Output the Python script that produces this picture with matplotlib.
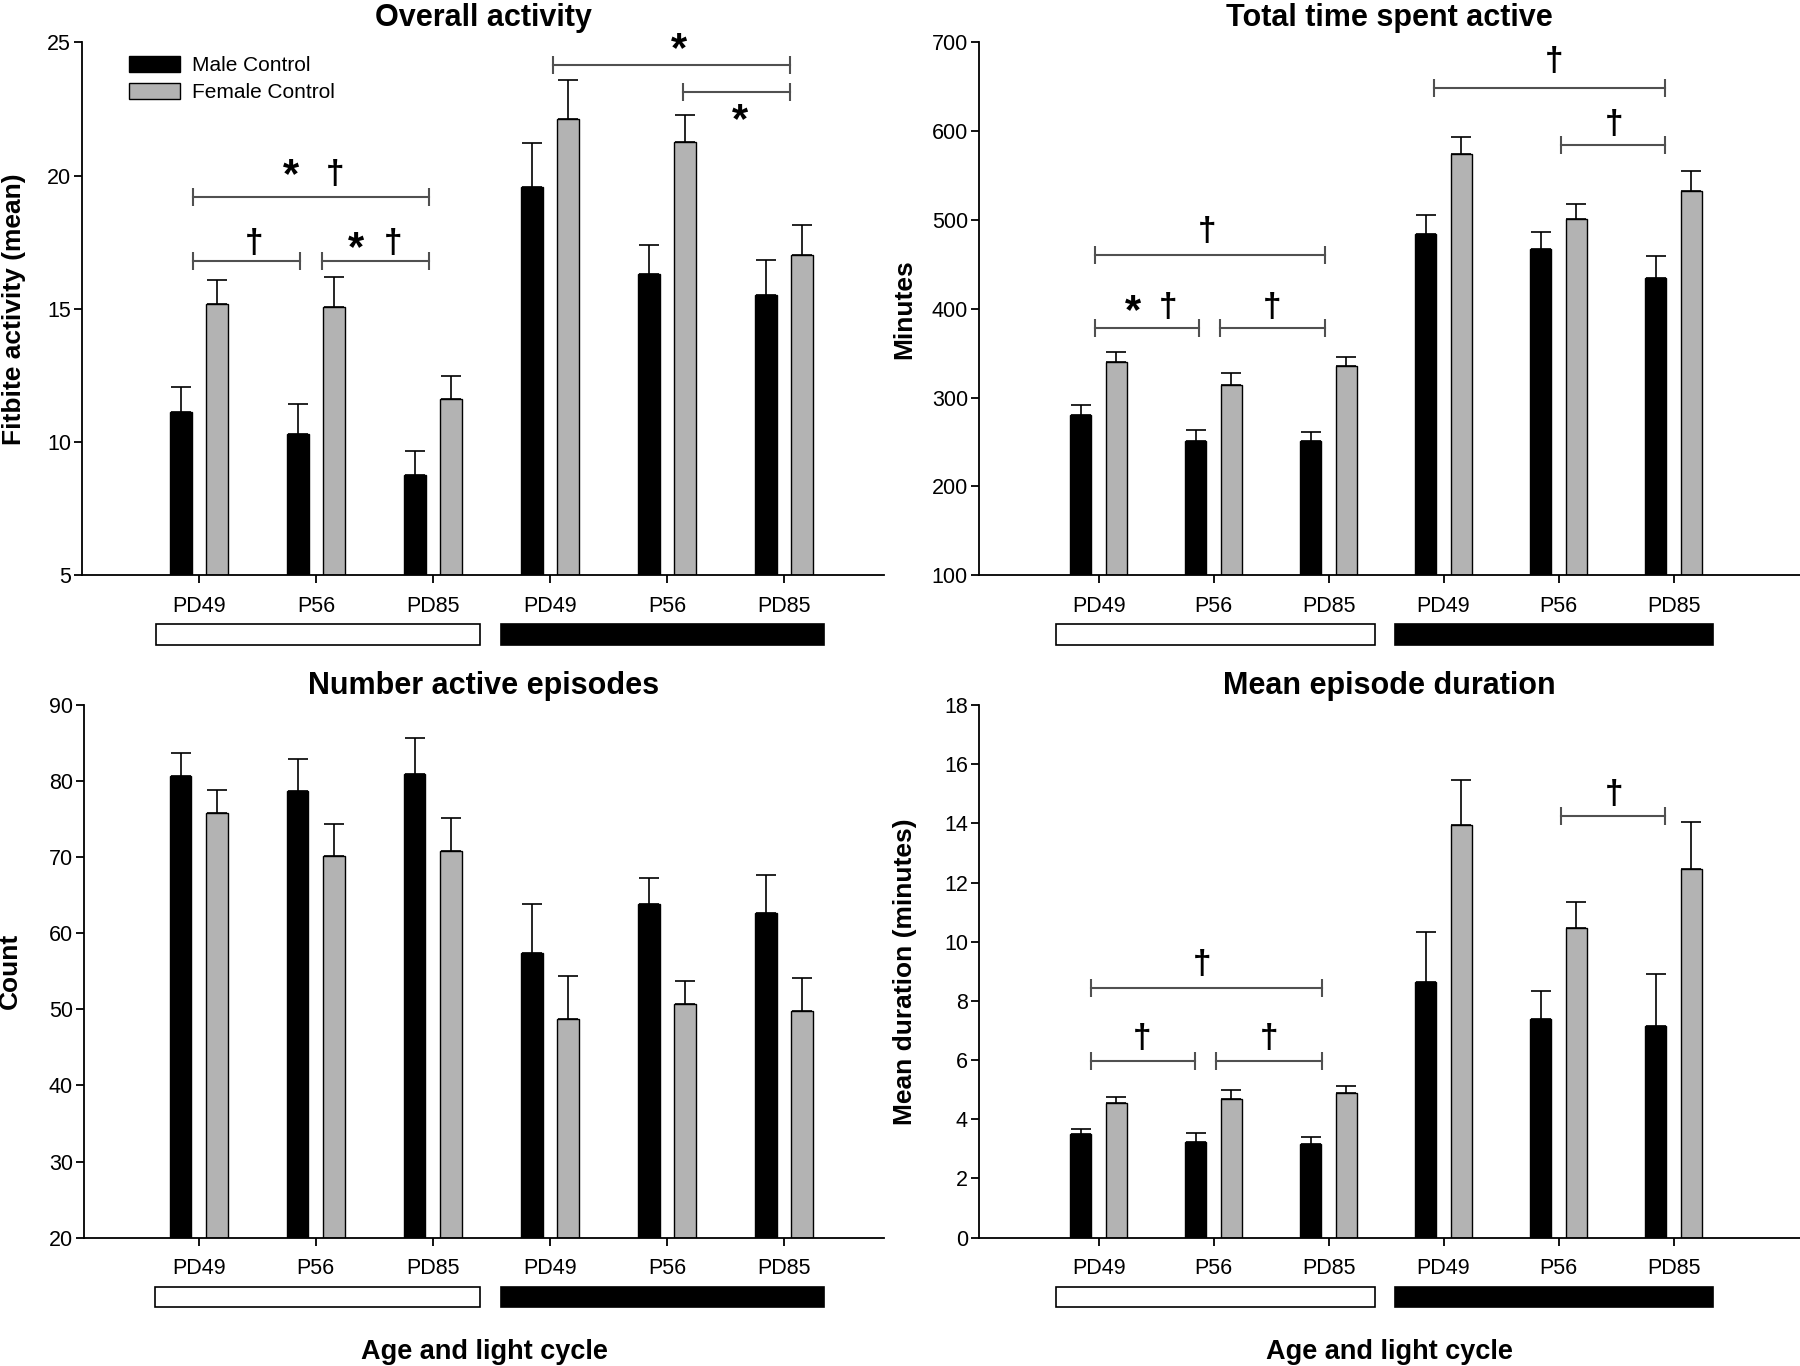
import matplotlib
matplotlib.use("Agg")
import matplotlib.pyplot as plt
import matplotlib.transforms as mtransforms
from matplotlib.patches import Rectangle, Patch
import numpy as np

plt.rcParams['font.family'] = ['Liberation Sans', 'DejaVu Sans']

# ---- data ----
ages = ["PD49", "P56", "PD85", "PD49", "P56", "PD85"]
series = ["Male Control", "Female Control"]

activity_male = [11.13, 10.28, 8.76, 19.59, 16.30, 15.53]
activity_male_err = [0.93, 1.13, 0.90, 1.65, 1.10, 1.29]
activity_female = [15.19, 15.07, 11.61, 22.14, 21.27, 17.02]
activity_female_err = [0.88, 1.12, 0.88, 1.47, 1.00, 1.14]

minutes_male = [280.5, 250.5, 251.0, 484.1, 467.4, 434.5]
minutes_male_err = [10.8, 12.8, 9.8, 21.6, 19.2, 25.5]
minutes_female = [340.3, 314.3, 335.4, 573.9, 501.3, 533.2]
minutes_female_err = [11.3, 12.8, 9.8, 19.1, 16.7, 22.5]

count_male = [80.67, 78.67, 80.96, 57.43, 63.84, 62.64]
count_male_err = [3.03, 4.29, 4.69, 6.35, 3.38, 5.04]
count_female = [75.86, 70.14, 70.77, 48.67, 50.73, 49.76]
count_female_err = [2.98, 4.18, 4.35, 5.67, 3.04, 4.41]

duration_male = [3.49, 3.22, 3.15, 8.65, 7.40, 7.15]
duration_male_err = [0.19, 0.33, 0.25, 1.68, 0.94, 1.77]
duration_female = [4.55, 4.68, 4.89, 13.95, 10.48, 12.45]
duration_female_err = [0.19, 0.31, 0.23, 1.52, 0.85, 1.58]

# significance brackets: (x start, x end, y) and marks (symbol, x, y centre)
activity_brackets = [(-0.05, 1.97, 19.21), (-0.05, 0.86, 16.81), (1.05, 1.97, 16.81),
                     (3.03, 5.05, 24.17), (4.14, 5.05, 23.14)]
activity_marks = [("*", 0.79, 20.24), ("†", 1.16, 20.06), ("†", 0.47, 17.48),
                  ("*", 1.34, 17.5), ("†", 1.66, 17.48), ("*", 4.10, 24.95), ("*", 4.62, 22.3)]
minutes_brackets = [(-0.03, 1.97, 460.1), (-0.03, 0.87, 378.6), (1.06, 1.97, 378.6),
                    (2.92, 4.93, 649.0), (4.02, 4.93, 584.2)]
minutes_marks = [("†", 0.94, 487.5), ("*", 0.30, 404.0), ("†", 0.60, 401.7),
                 ("†", 1.51, 401.7), ("†", 3.96, 678.9), ("†", 4.48, 607.8)]
count_brackets = []
count_marks = []
duration_brackets = [(-0.07, 1.94, 8.42), (-0.07, 0.84, 5.96), (1.02, 1.94, 5.96),
                     (4.02, 4.93, 14.25)]
duration_marks = [("†", 0.90, 9.24), ("†", 0.38, 6.74), ("†", 1.48, 6.74), ("†", 4.48, 14.98)]

W, H = 1800, 1366
fig = plt.figure(figsize=(W / 100, H / 100), dpi=100)


def frac(l, r, t, b):
    return [l / W, 1 - b / H, (r - l) / W, (b - t) / H]


male_color = "black"
female_color = "#b3b3b3"
bracket_color = "#505050"


def panel(rect, xlim, title, ylabel, ylim, yticks, male, male_err, female, female_err,
          brackets, marks, ylabel_x, title_pad, show_xlabel=False):
    ax = fig.add_axes(rect)
    x = np.arange(len(ages))
    ax.bar(x - 0.155, [m - ylim[0] for m in male], width=0.185, bottom=ylim[0],
           color=male_color, edgecolor="black", linewidth=1.0, zorder=2)
    ax.bar(x + 0.155, [f - ylim[0] for f in female], width=0.185, bottom=ylim[0],
           color=female_color, edgecolor="black", linewidth=1.0, zorder=2)
    ax.errorbar(x - 0.155, male, yerr=[np.zeros(len(male)), male_err], fmt="none",
                ecolor="black", elinewidth=1.2, capsize=7, capthick=1.2, zorder=1)
    ax.errorbar(x + 0.155, female, yerr=[np.zeros(len(female)), female_err], fmt="none",
                ecolor="black", elinewidth=1.2, capsize=7, capthick=1.2, zorder=1)

    ax.set_xlim(*xlim)
    ax.set_ylim(*ylim)
    ax.set_yticks(yticks)
    ax.set_xticks(x)
    ax.set_xticklabels(ages)
    for s in ["top", "right"]:
        ax.spines[s].set_visible(False)
    for s in ["left", "bottom"]:
        ax.spines[s].set_linewidth(1.3)
    ax.tick_params(axis="x", direction="out", length=6, width=1.3, pad=9, labelsize=15.5)
    ax.tick_params(axis="y", direction="out", length=6, width=1.3, pad=2, labelsize=15.5)

    ax.set_title(title, fontsize=22, fontweight="bold", pad=title_pad)
    ax.set_ylabel(ylabel, fontsize=19, fontweight="bold")
    ax.yaxis.set_label_coords(ylabel_x, 0.5)

    # light cycle bars below the axis
    trans = mtransforms.blended_transform_factory(ax.transData, ax.transAxes)
    ax.add_patch(Rectangle((-0.37, -0.131), 2.77, 0.039, transform=trans, clip_on=False,
                           facecolor="white", edgecolor="black", linewidth=1.2))
    ax.add_patch(Rectangle((2.58, -0.131), 2.76, 0.039, transform=trans, clip_on=False,
                           facecolor="black", edgecolor="black", linewidth=1.2))

    for x0, x1, y in brackets:
        ax.plot([x0, x1], [y, y], color=bracket_color, lw=1.5, marker="|",
                markersize=13, markeredgewidth=1.5, zorder=3)
    for s, mx, my in marks:
        if s == "*":
            size, frac_c = 30, 0.42
        else:
            size, frac_c = 24, 0.27
        tr = mtransforms.offset_copy(ax.transData, fig=fig, x=0, y=-frac_c * size, units="points")
        ax.text(mx, my, s, transform=tr, ha="center", va="baseline",
                fontsize=size, fontweight="bold")

    if show_xlabel:
        ax.text(0.5, -0.215, "Age and light cycle", transform=ax.transAxes, ha="center",
                va="center", fontsize=19.5, fontweight="bold")
    return ax


ax1 = panel(frac(82, 884, 42.5, 575), (-1.0, 5.855), "Overall activity", "Fitbite activity (mean)",
            (5, 25), [5, 10, 15, 20, 25], activity_male, activity_male_err,
            activity_female, activity_female_err, activity_brackets, activity_marks, -0.07, 12)
ax2 = panel(frac(979, 1800, 42.5, 575), (-1.04, 6.1), "Total time spent active", "Minutes",
            (100, 700), [100, 200, 300, 400, 500, 600, 700], minutes_male, minutes_male_err,
            minutes_female, minutes_female_err, minutes_brackets, minutes_marks, -0.077, 12)
ax3 = panel(frac(84, 884, 705, 1237.6), (-0.98, 5.855), "Number active episodes", "Count",
            (20, 90), [20, 30, 40, 50, 60, 70, 80, 90], count_male, count_male_err,
            count_female, count_female_err, count_brackets, count_marks, -0.078, 8, True)
ax4 = panel(frac(979, 1800, 705, 1237.6), (-1.04, 6.1), "Mean episode duration",
            "Mean duration (minutes)", (0, 18), list(range(0, 19, 2)), duration_male,
            duration_male_err, duration_female, duration_female_err, duration_brackets,
            duration_marks, -0.075, 8, True)

handles = [Patch(facecolor=male_color, edgecolor="black", linewidth=1.0),
           Patch(facecolor=female_color, edgecolor="black", linewidth=1.0)]
ax1.legend(handles, series, loc="upper left", bbox_to_anchor=(0.058, 0.975), frameon=False,
           fontsize=15, handlelength=2.45, handleheight=0.85, handletextpad=0.6,
           labelspacing=0.35, borderpad=0, borderaxespad=0)

fig.savefig("out.png", dpi=100)
